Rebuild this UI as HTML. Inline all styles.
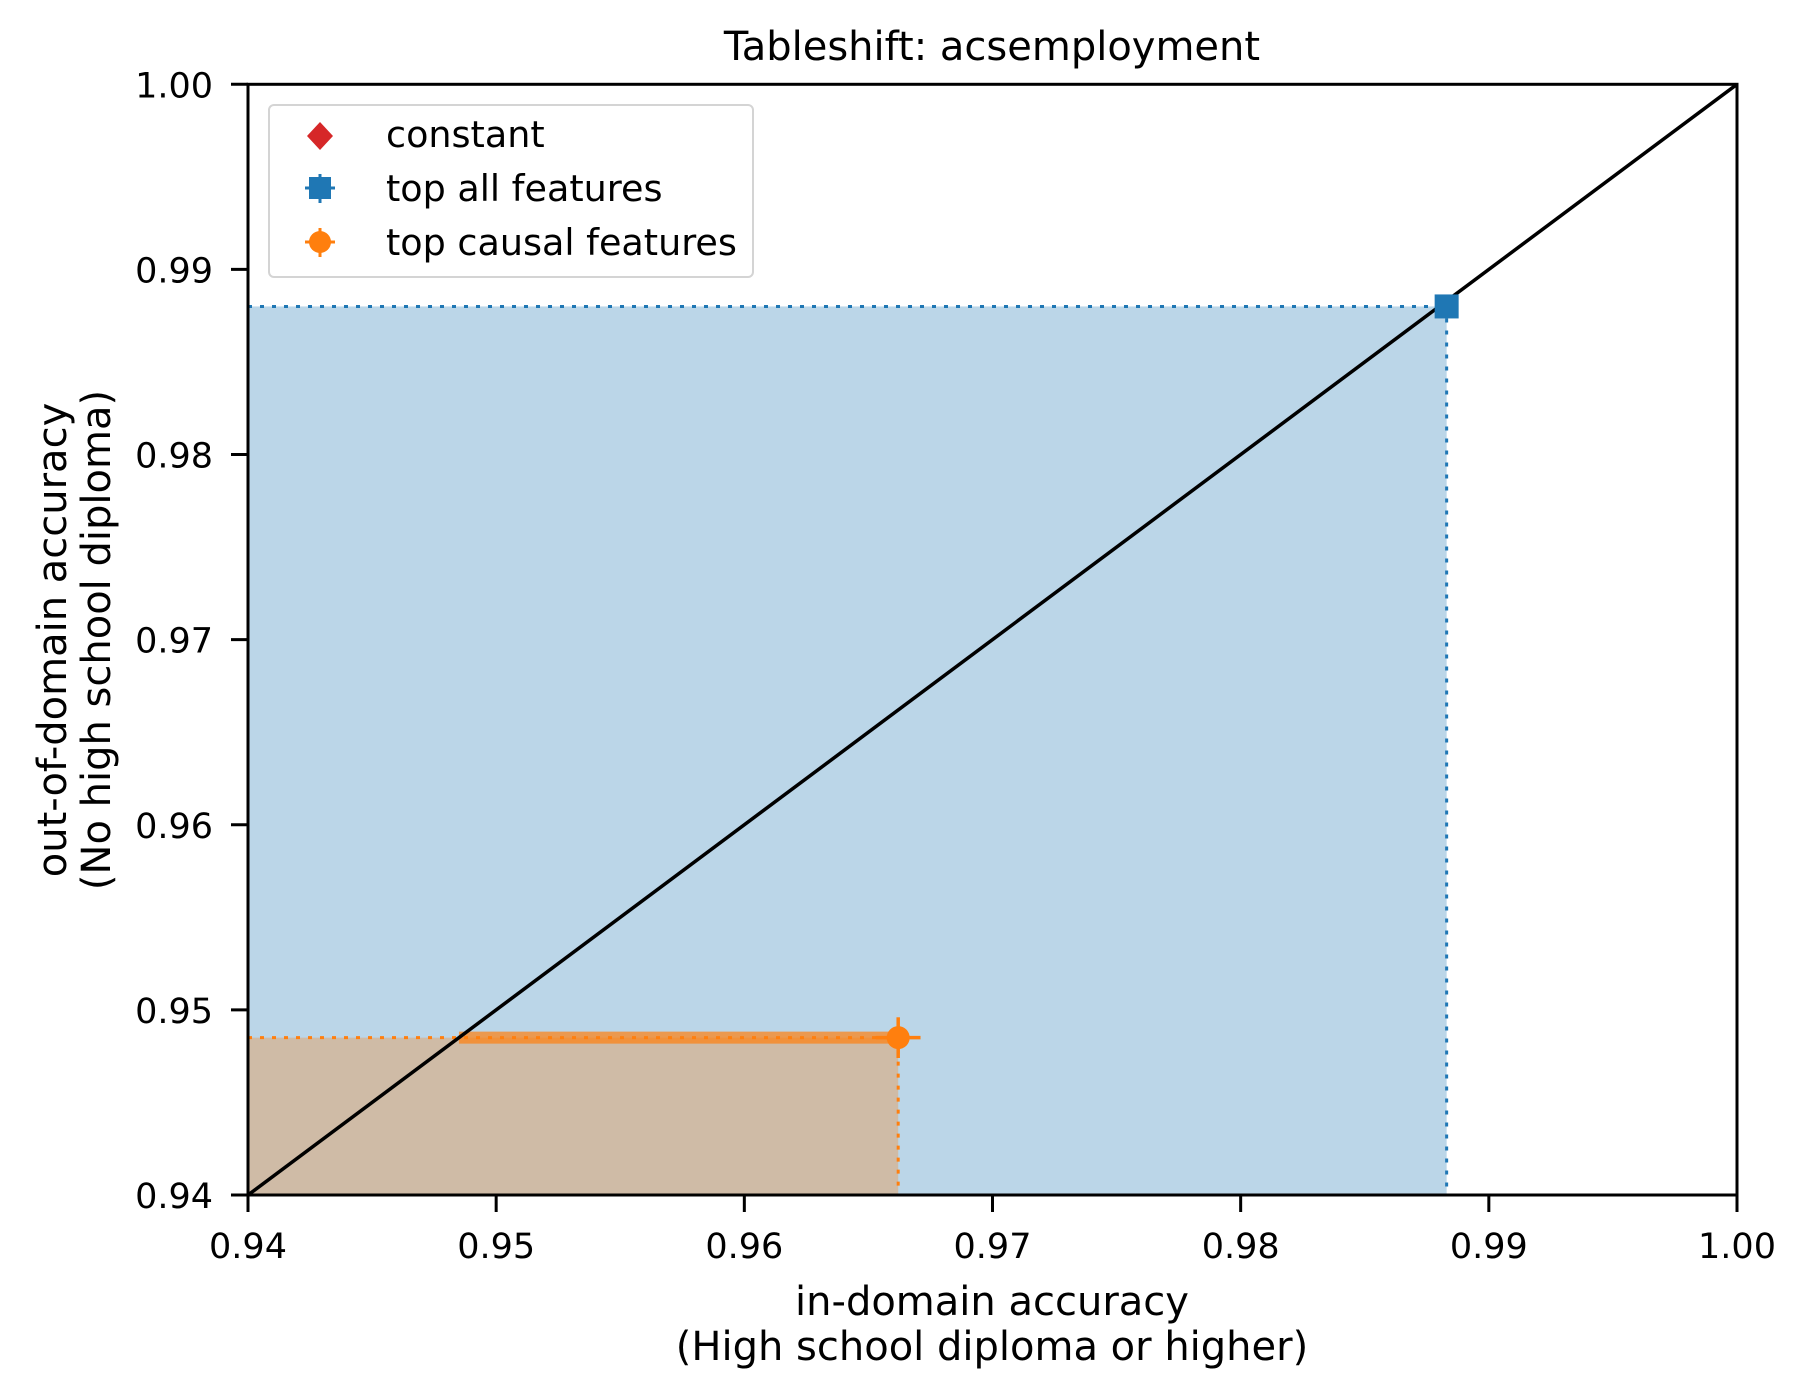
<!DOCTYPE html>
<html><head><meta charset="utf-8"><style>
body{margin:0;background:#fff}
svg{display:block;font-family:"DejaVu Sans","Liberation Sans",sans-serif}
</style></head><body>
<svg id="chart" width="1808" height="1398" viewBox="0 0 1808 1398">
<g id="plot"></g>
</svg>
<script>
const ticks = [0.94, 0.95, 0.96, 0.97, 0.98, 0.99, 1.00];
const tickLabels = ["0.94","0.95","0.96","0.97","0.98","0.99","1.00"];
const seriesNames = ["top all features", "top causal features"];
const xVals = [0.9883, 0.9662];
const yVals = [0.9880, 0.9485];
const xErr = [0.0, 0.0009];
const yErr = [0.0, 0.0011];
const colors = ["#1f77b4", "#ff7f0e"];

const L=248, R=1737, T=84.3, B=1195;
const X0=0.94, X1=1.0, Y0=0.94, Y1=1.0;
function x(v){return L+(v-X0)/(X1-X0)*(R-L);}
function y(v){return B-(v-Y0)/(Y1-Y0)*(B-T);}
const NS="http://www.w3.org/2000/svg";
const g=document.getElementById('plot');
function mk(tag,attrs,parent){const e=document.createElementNS(NS,tag);for(const k in attrs)e.setAttribute(k,attrs[k]);(parent||g).appendChild(e);return e;}

for(let i=0;i<xVals.length;i++){
  const r=mk('rect',{x:L,y:y(yVals[i]),width:x(xVals[i])-L,height:B-y(yVals[i]),fill:colors[i],'fill-opacity':0.3});
  
  
}
{
  const i=1;
  const b=mk('line',{x1:x(yVals[i]),y1:y(yVals[i]),x2:x(xVals[i]),y2:y(yVals[i]),stroke:colors[i],'stroke-width':12,'stroke-opacity':0.7});
  
  
}
for(let i=0;i<xVals.length;i++){
  const h=mk('line',{x1:L,y1:y(yVals[i]),x2:x(xVals[i]),y2:y(yVals[i]),stroke:colors[i],'stroke-width':3,'stroke-dasharray':'4 8'});
  
  
  const v=mk('line',{x1:x(xVals[i]),y1:y(yVals[i]),x2:x(xVals[i]),y2:B,stroke:colors[i],'stroke-width':3,'stroke-dasharray':'4 8'});
  
  
}
{
  const d=mk('line',{x1:x(X0),y1:y(Y0),x2:x(X1),y2:y(Y1),stroke:'#000','stroke-width':3.5});
  
  
}
for(let i=0;i<xVals.length;i++){
  const cx=x(xVals[i]), cy=y(yVals[i]);
  if(xErr[i]>0){
    const e=mk('line',{x1:x(xVals[i]-xErr[i]),y1:cy,x2:x(xVals[i]+xErr[i]),y2:cy,stroke:colors[i],'stroke-width':3.5});
    
    
  }
  if(yErr[i]>0){
    const e=mk('line',{x1:cx,y1:y(yVals[i]-yErr[i]),x2:cx,y2:y(yVals[i]+yErr[i]),stroke:colors[i],'stroke-width':3.5});
    
    
  }
  let m;
  if(i===0) m=mk('rect',{x:cx-12,y:cy-12,width:24,height:24,fill:colors[i]});
  else m=mk('circle',{cx:cx,cy:cy,r:11.5,fill:colors[i]});
  
  
}
{
  const f=mk('rect',{x:L,y:T,width:R-L,height:B-T,fill:'none',stroke:'#000','stroke-width':3});
  
  
}
for(let i=0;i<ticks.length;i++){
  const tx=mk('line',{x1:x(ticks[i]),y1:B,x2:x(ticks[i]),y2:B+17,stroke:'#000','stroke-width':3});
  
  
  const lx=mk('text',{x:x(ticks[i]),y:B+63,'font-size':35,'text-anchor':'middle'});
  lx.textContent=tickLabels[i];
  
  
  const ty=mk('line',{x1:L-17,y1:y(ticks[i]),x2:L,y2:y(ticks[i]),stroke:'#000','stroke-width':3});
  
  
  const ly=mk('text',{x:L-35,y:y(ticks[i])+13,'font-size':35,'text-anchor':'end'});
  ly.textContent=tickLabels[i];
  
  
}
</script>
<svg width="1808" height="1398" viewBox="0 0 1808 1398" style="position:absolute;left:0;top:0;font-family:'DejaVu Sans','Liberation Sans',sans-serif">
<text x="992" y="60" font-size="40" text-anchor="middle">Tableshift: acsemployment</text>
<text x="992" y="1315" font-size="40" text-anchor="middle">in-domain accuracy</text>
<text x="992" y="1360" font-size="40" text-anchor="middle">(High school diploma or higher)</text>
<text transform="translate(66,640) rotate(-90)" font-size="40" text-anchor="middle">out-of-domain accuracy</text>
<text transform="translate(110,640) rotate(-90)" font-size="40" text-anchor="middle">(No high school diploma)</text>
<g>
<rect x="269" y="105" width="484" height="172" rx="5" fill="#fff" fill-opacity="0.8" stroke="#d4d4d4" stroke-width="2"/>
<g>
<polygon points="320,122 333,136 320,150 307,136" fill="#d62728"/>
<text x="386" y="147" font-size="36.5">constant</text></g>
<g>
<line x1="320" y1="174" x2="320" y2="203" stroke="#1f77b4" stroke-width="3"/>
<line x1="305" y1="188" x2="335" y2="188" stroke="#1f77b4" stroke-width="3"/>
<rect x="309" y="177" width="22" height="22" fill="#1f77b4"/>
<text x="386" y="201" font-size="36.5">top all features</text></g>
<g>
<line x1="320" y1="228" x2="320" y2="257" stroke="#ff7f0e" stroke-width="3"/>
<line x1="305" y1="242" x2="335" y2="242" stroke="#ff7f0e" stroke-width="3"/>
<circle cx="320" cy="242" r="11" fill="#ff7f0e"/>
<text x="386" y="255" font-size="36.5">top causal features</text></g>
</g>
</svg>
</body></html>
